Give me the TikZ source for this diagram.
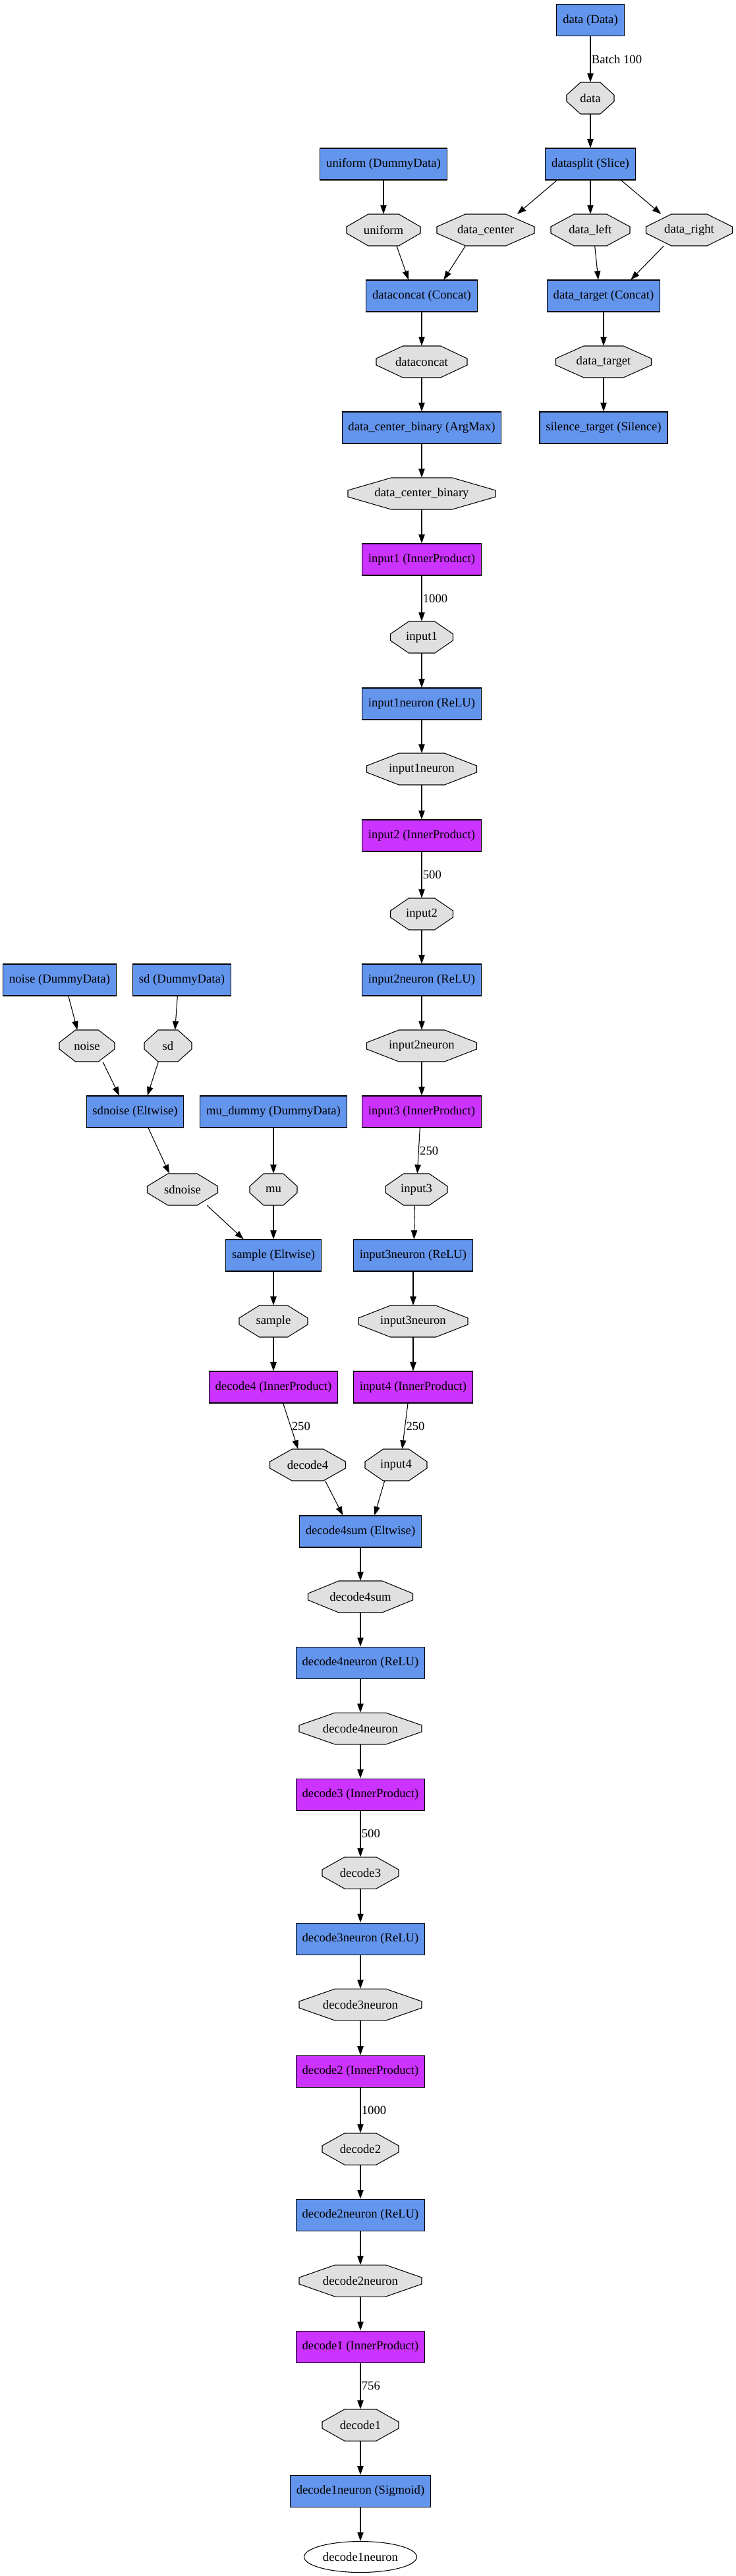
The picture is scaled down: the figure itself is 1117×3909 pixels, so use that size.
\documentclass[tikz,border=0pt]{standalone}
\usepackage{fontspec}
\setmainfont{Liberation Serif}
\usetikzlibrary{arrows.meta,shapes.geometric}

\definecolor{layerblue}{HTML}{6495ED}
\definecolor{ipurple}{HTML}{CC33FF}
\definecolor{blobgray}{HTML}{E0E0E0}

\tikzset{
  netfont/.style={font=\fontsize{14pt}{16pt}\selectfont},
  layer/.style={draw, fill=layerblue, rectangle, minimum height=36pt, inner xsep=7pt, inner ysep=0pt, line width=0.8pt, netfont},
  iplayer/.style={layer, fill=ipurple},
  blobshape/.style={draw, fill=blobgray, line width=0.8pt},
  blobtext/.style={rectangle, minimum height=36pt, inner sep=0pt, netfont},
  flow/.style={-{Triangle[length=10pt,width=7pt]}, line width=0.8pt},
  dimlabel/.style={right, inner sep=1pt, netfont}
}

% octagon blob: name, x, y, width (px), text
\newcommand{\blobnode}[5]{%
  \filldraw[blobshape] (#2-#4/2,#3-4.97) -- (#2-#4/2,#3+4.97) -- (#2-0.207*#4,#3+24) -- (#2+0.207*#4,#3+24)
    -- (#2+#4/2,#3+4.97) -- (#2+#4/2,#3-4.97) -- (#2+0.207*#4,#3-24) -- (#2-0.207*#4,#3-24) -- cycle;
  \node[blobtext, minimum width=#4*0.75pt] (#1) at (#2,#3) {#5};
}

\begin{document}
\begin{tikzpicture}[x=0.75pt, y=-0.75pt]
        \useasboundingbox (0,0) rectangle (1117,3909);

        \node[layer] (data_layer) at (896,30.6) {data (Data)};
        \blobnode{data}{896}{149}{72}{data}
        \node[layer] (datasplit) at (896,249) {datasplit (Slice)};
        \node[layer] (uniform_layer) at (582,249) {uniform (DummyData)};
        \blobnode{uniform}{582}{349}{112}{uniform}
        \blobnode{data_center}{737}{349}{148}{data\_center}
        \blobnode{data_left}{896}{349}{120}{data\_left}
        \blobnode{data_right}{1046}{349}{131}{data\_right}
        \node[layer] (dataconcat_layer) at (640,449) {dataconcat (Concat)};
        \node[layer] (data_target_layer) at (916,449) {data\_target (Concat)};
        \blobnode{dataconcat}{640}{549}{138}{dataconcat}
        \blobnode{data_target}{916}{549}{145}{data\_target}
        \node[layer] (dcb_layer) at (640,649) {data\_center\_binary (ArgMax)};
        \node[layer] (silence_target) at (916,649) {silence\_target (Silence)};
        \blobnode{data_center_binary}{640}{749}{224}{data\_center\_binary}

        \node[iplayer] (input1_layer) at (640,849) {input1 (InnerProduct)};
        \blobnode{input1}{640}{967}{95}{input1}
        \node[layer] (input1neuron_layer) at (640,1068) {input1neuron (ReLU)};
        \blobnode{input1neuron}{640}{1167}{167}{input1neuron}
        \node[iplayer] (input2_layer) at (640,1268) {input2 (InnerProduct)};
        \blobnode{input2}{640}{1387}{95}{input2}
        \node[layer] (input2neuron_layer) at (640,1487) {input2neuron (ReLU)};
        \blobnode{input2neuron}{640}{1587}{167}{input2neuron}
        \node[iplayer] (input3_layer) at (640,1687) {input3 (InnerProduct)};
        \blobnode{input3}{632}{1805}{94}{input3}
        \node[layer] (input3neuron_layer) at (627,1905) {input3neuron (ReLU)};
        \blobnode{input3neuron}{627}{2005}{166}{input3neuron}
        \node[iplayer] (input4_layer) at (627,2105) {input4 (InnerProduct)};
        \blobnode{input4}{601}{2223}{94}{input4}

        \node[layer] (noise_layer) at (90.5,1487) {noise (DummyData)};
        \node[layer] (sd_layer) at (276,1487) {sd (DummyData)};
        \blobnode{noise}{132}{1587}{84}{noise}
        \blobnode{sd}{255}{1587}{72}{sd}
        \node[layer] (sdnoise_layer) at (205,1687) {sdnoise (Eltwise)};
        \node[layer] (mu_dummy) at (415,1687) {mu\_dummy (DummyData)};
        \blobnode{sdnoise}{277}{1805}{107}{sdnoise}
        \blobnode{mu}{415}{1805}{72}{mu}
        \node[layer] (sample_layer) at (415,1905) {sample (Eltwise)};
        \blobnode{sample}{415}{2005}{104}{sample}
        \node[iplayer] (decode4_layer) at (415,2105) {decode4 (InnerProduct)};
        \blobnode{decode4}{467}{2223}{115}{decode4}

        \node[layer] (decode4sum_layer) at (547,2324) {decode4sum (Eltwise)};
        \blobnode{decode4sum}{547}{2423}{159}{decode4sum}
        \node[layer] (decode4neuron_layer) at (547,2523) {decode4neuron (ReLU)};
        \blobnode{decode4neuron}{547}{2623}{186}{decode4neuron}
        \node[iplayer] (decode3_layer) at (547,2723) {decode3 (InnerProduct)};
        \blobnode{decode3}{547}{2842}{116}{decode3}
        \node[layer] (decode3neuron_layer) at (547,2942) {decode3neuron (ReLU)};
        \blobnode{decode3neuron}{547}{3042}{186}{decode3neuron}
        \node[iplayer] (decode2_layer) at (547,3143) {decode2 (InnerProduct)};
        \blobnode{decode2}{547}{3261}{116}{decode2}
        \node[layer] (decode2neuron_layer) at (547,3361) {decode2neuron (ReLU)};
        \blobnode{decode2neuron}{547}{3461}{186}{decode2neuron}
        \node[iplayer] (decode1_layer) at (547,3561) {decode1 (InnerProduct)};
        \blobnode{decode1}{547}{3680}{116}{decode1}
        \node[layer] (decode1neuron_layer) at (547,3780) {decode1neuron (Sigmoid)};
        \node[draw, ellipse, line width=0.8pt, minimum width=171*0.75pt, minimum height=47*0.75pt, inner sep=0pt, netfont] (decode1neuron) at (547,3880) {decode1neuron};

        \foreach \a/\b in {data/datasplit, uniform_layer/uniform, datasplit/data_left,
            dataconcat_layer/dataconcat, data_target_layer/data_target, dataconcat/dcb_layer,
            data_target/silence_target, dcb_layer/data_center_binary, data_center_binary/input1_layer,
            input1/input1neuron_layer, input1neuron_layer/input1neuron, input1neuron/input2_layer,
            input2/input2neuron_layer, input2neuron_layer/input2neuron, input2neuron/input3_layer,
            mu_dummy/mu, mu/sample_layer, sample_layer/sample, sample/decode4_layer,
            input3neuron_layer/input3neuron, input3neuron/input4_layer,
            decode4sum_layer/decode4sum, decode4sum/decode4neuron_layer, decode4neuron_layer/decode4neuron,
            decode4neuron/decode3_layer, decode3/decode3neuron_layer, decode3neuron_layer/decode3neuron,
            decode3neuron/decode2_layer, decode2/decode2neuron_layer, decode2neuron_layer/decode2neuron,
            decode2neuron/decode1_layer, decode1/decode1neuron_layer, decode1neuron_layer/decode1neuron}
            \draw[flow] (\a.south) -- (\b.north);

        \foreach \a/\b/\n in {data_layer/data/Batch 100, input1_layer/input1/1000, input2_layer/input2/500,
            decode3_layer/decode3/500, decode2_layer/decode2/1000, decode1_layer/decode1/756}
            \draw[flow] (\a.south) -- (\b.north) node[dimlabel, midway] {\n};

        \draw[flow] ([xshift=-38]datasplit.south) -- ([xshift=36]data_center.north);
        \draw[flow] ([xshift=35]datasplit.south) -- ([xshift=-32]data_right.north);
        \draw[flow] ([xshift=15]uniform.south) -- ([xshift=-15]dataconcat_layer.north);
        \draw[flow] ([xshift=-23]data_center.south) -- ([xshift=25]dataconcat_layer.north);
        \draw[flow] ([xshift=5]data_left.south) -- ([xshift=-6]data_target_layer.north);
        \draw[flow] ([xshift=-29]data_right.south) -- ([xshift=31]data_target_layer.north);

        \draw[flow] ([xshift=10]noise_layer.south) -- ([xshift=-11]noise.north);
        \draw[flow] ([xshift=-5]sd_layer.south) -- ([xshift=8]sd.north);
        \draw[flow] ([xshift=18]noise.south) -- ([xshift=-18]sdnoise_layer.north);
        \draw[flow] ([xshift=-11]sd.south) -- ([xshift=14]sdnoise_layer.north);
        \draw[flow] ([xshift=15]sdnoise_layer.south) -- ([xshift=-15]sdnoise.north);
        \draw[flow] ([xshift=28]sdnoise.south) -- ([xshift=-34]sample_layer.north);

        \draw[flow] ([xshift=-2]input3_layer.south) -- ([xshift=1]input3.north) node[dimlabel, midway] {250};
        \draw[flow] ([xshift=-2]input3.south) -- ([xshift=1]input3neuron_layer.north);
        \draw[flow] ([xshift=11]decode4_layer.south) -- ([xshift=-11]decode4.north) node[dimlabel, midway] {250};
        \draw[flow] ([xshift=-6]input4_layer.south) -- ([xshift=7]input4.north) node[dimlabel, midway] {250};
        \draw[flow] ([xshift=20]decode4.south) -- ([xshift=-20]decode4sum_layer.north);
        \draw[flow] ([xshift=-13]input4.south) -- ([xshift=16]decode4sum_layer.north);

    \end{tikzpicture}
\end{document}
